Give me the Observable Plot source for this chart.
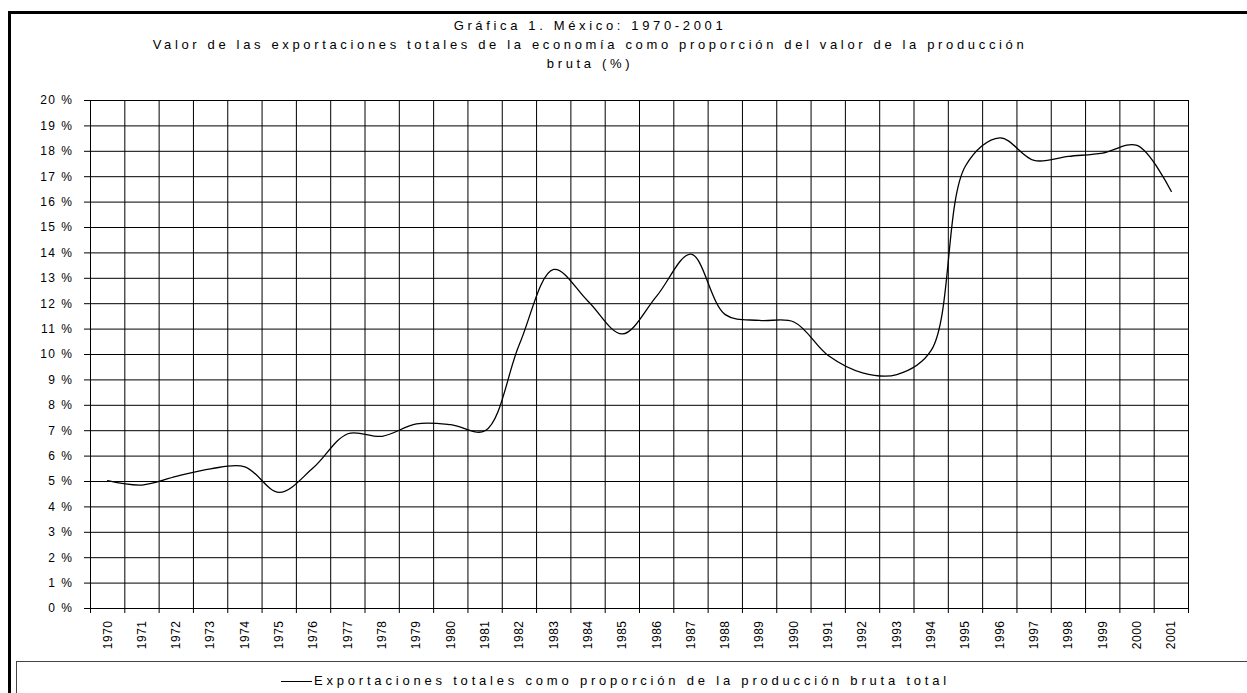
<!DOCTYPE html>
<html>
<head>
<meta charset="utf-8">
<script src="https://cdn.jsdelivr.net/npm/d3@7"></script>
<script src="https://cdn.jsdelivr.net/npm/@observablehq/plot@0.6"></script>
<style>
  body { margin: 0; background: #fff; font-family: "Liberation Sans", Arial, sans-serif; color: #000; }
  #wrap { position: relative; width: 1247px; height: 693px; overflow: hidden; background: #fff; }
  #frame { position: absolute; left: 8px; top: 11px; width: 1300px; height: 800px; border-left: 3px solid #000; border-top: 3px solid #000; box-sizing: border-box; pointer-events: none; }
  #title { position: absolute; left: 0; top: 16px; width: 1180px; text-align: center; font-size: 13px; letter-spacing: 3.65px; line-height: 19px; }
  #chart { position: absolute; left: 0; top: 88px; }
  #legend { position: absolute; left: 16px; top: 661px; width: 1300px; height: 60px; border: 1.5px solid #444; box-sizing: border-box; }
  #legend .swatch { position: absolute; left: 264px; top: 19px; width: 31px; height: 0; border-top: 1.3px solid #000; }
  #legend .label { position: absolute; left: 297px; top: 11px; font-size: 13px; letter-spacing: 3.8px; white-space: nowrap; }
  #chart g[aria-label="y-axis tick label"] text { letter-spacing: 1.5px; }
  #chart g[aria-label="x-axis tick label"] text { letter-spacing: 0.5px; }
</style>
</head>
<body>
<div id="wrap">
  <div id="title">Gráfica 1. México: 1970-2001<br>Valor de las exportaciones totales de la economía como proporción del valor de la producción<br>bruta (%)</div>
  <div id="chart"></div>
  <div id="legend"><span class="swatch"></span><span class="label">Exportaciones totales como proporción de la producción bruta total</span></div>
  <div id="frame"></div>
</div>
<script>
const years = [1970, 1971, 1972, 1973, 1974, 1975, 1976, 1977, 1978, 1979, 1980,
  1981, 1982, 1983, 1984, 1985, 1986, 1987, 1988, 1989, 1990,
  1991, 1992, 1993, 1994, 1995, 1996, 1997, 1998, 1999, 2000, 2001];
const exportShare = [5.03, 4.86, 5.2, 5.5, 5.58, 4.57, 5.55, 6.88, 6.78, 7.27, 7.24,
  7.0, 10.4, 13.35, 12.1, 10.81, 12.3, 13.95, 11.57, 11.34, 11.28,
  9.96, 9.28, 9.21, 10.16, 17.42, 18.53, 17.64, 17.8, 17.93, 18.23, 16.42];
const yTicks = [0, 1, 2, 3, 4, 5, 6, 7, 8, 9, 10, 11, 12, 13, 14, 15, 16, 17, 18, 19, 20];
const seriesName = "Exportaciones totales como proporción de la producción bruta total";

const data = years.map((y, i) => ({year: y, value: exportShare[i], series: seriesName}));
const boundaries = years.map(y => y - 0.5).concat([years[years.length - 1] + 0.5]);

const chart = Plot.plot({
  width: 1247,
  height: 572,
  marginLeft: 90,
  marginRight: 59,
  marginTop: 12,
  marginBottom: 52,
  style: {background: "transparent", fontFamily: "Liberation Sans, Arial, sans-serif", fontSize: "12px", color: "#000", overflow: "visible"},
  x: {type: "linear", domain: [boundaries[0], boundaries[boundaries.length - 1]], label: null},
  y: {domain: [0, 20], label: null},
  marks: [
    Plot.ruleY(yTicks, {stroke: "#000", strokeWidth: 1}),
    Plot.ruleX(boundaries, {y1: 0, y2: 20, stroke: "#000", strokeWidth: 1}),
    Plot.axisY(yTicks, {tickSize: 6, tickPadding: 11, tickFormat: d => d + " %", fontSize: 12, stroke: "#000", label: null}),
    Plot.axisX(boundaries, {tickSize: 5, tickFormat: () => "", stroke: "#000", label: null}),
    Plot.axisX(years, {tickSize: 0, tickPadding: 12, tickRotate: -90, tickFormat: d => String(d), fontSize: 12, label: null}),
    Plot.line(data, {x: "year", y: "value", curve: "catmull-rom", stroke: "#000", strokeWidth: 1.3})
  ]
});
document.getElementById("chart").appendChild(chart);
</script>
</body>
</html>
